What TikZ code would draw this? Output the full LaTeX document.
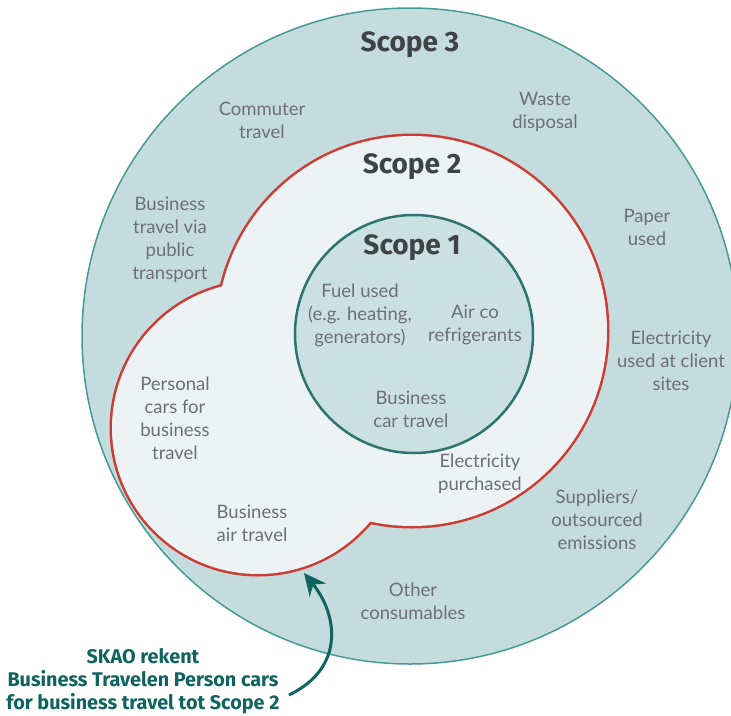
\documentclass[tikz,border=0pt]{standalone}
\usepackage{fontspec}
\setmainfont{Lato}
\newfontfamily\headfont{Fira Sans}
\usetikzlibrary{arrows.meta}

\definecolor{outerfill}{RGB}{196,220,221}
\definecolor{outerline}{RGB}{70,155,150}
\definecolor{midfill}{RGB}{237,243,244}
\definecolor{redline}{RGB}{205,60,50}
\definecolor{innerfill}{RGB}{203,225,225}
\definecolor{innerline}{RGB}{45,115,110}
\definecolor{itemgray}{RGB}{108,112,114}
\definecolor{scopegray}{RGB}{62,67,70}
\definecolor{noteteal}{RGB}{15,100,95}

\begin{document}
\begin{tikzpicture}[
    x = 1pt,
    y = -1pt,
    item/.style = {align=center, text=itemgray, inner sep=0pt,
      font=\fontsize{18.5}{23}\selectfont},
    scopelabel/.style = {text=scopegray, inner sep=0pt,
      font=\headfont\bfseries\fontsize{28}{30}\selectfont},
    note/.style = {align=center, text=noteteal, inner sep=0pt,
      font=\headfont\bfseries\fontsize{19.8}{23}\selectfont},
    pointer/.style = {-{Stealth[length=22pt, width=21pt]},
      line width=3pt, draw=noteteal},
    ]
    \useasboundingbox[fill=white] (0,0) rectangle (731,715);
    % scope 3 ring
    \draw[line width=1.5pt, draw=outerline, fill=outerfill]
    (410,336) circle[radius=328pt];
    % scope 2 blob
    \begin{scope}[line width=5pt, draw=redline]
      \draw (412,331) circle[radius=195pt];
      \draw (258,428) circle[radius=146pt];
    \end{scope}
    \fill[midfill] (412,331) circle[radius=195pt];
    \fill[midfill] (258,428) circle[radius=146pt];
    % scope 1 disc
    \draw[line width=2.5pt, draw=innerline, fill=innerfill]
    (414,334) circle[radius=119pt];
    % scope titles
    \node[scopelabel] (scope3) at (410,45) {Scope 3};
    \node[scopelabel] (scope2) at (412,167) {Scope 2};
    \node[scopelabel] (scope1) at (412,248) {Scope 1};
    % scope 3 items
    \node[item] (commuter) at (262,120) {Commuter\\travel};
    \node[item] (waste) at (545,112) {Waste\\disposal};
    \node[item] (public) at (170,240) {Business\\travel via\\public\\transport};
    \node[item] (paper) at (647,227) {Paper\\used};
    \node[item] (client) at (671,361) {Electricity\\used at client\\sites};
    \node[item] (suppliers) at (597,520) {Suppliers/\\outsourced\\emissions};
    \node[item] (other) at (413,601) {Other\\consumables};
    % scope 2 items
    \node[item] (personal) at (175,418) {Personal\\cars for\\business\\travel};
    \node[item] (air) at (252,523) {Business\\air travel};
    \node[item] (purchased) at (480,474) {Electricity\\purchased};
    % scope 1 items
    \node[item] (fuel) at (360,315) {Fuel used\\(e.g. heating,\\generators)};
    \node[item] (aircon) at (475,325) {Air co\\refrigerants};
    \node[item] (car) at (411,409) {Business\\car travel};
    % annotation
    \node[note] (skao) at (143,681)
    {SKAO rekent\\Business Travelen Person cars\\for business travel tot Scope 2};
    \coordinate (tail) at (289,695);
    \coordinate (tip) at (304,573);
    \draw[pointer] (tail) .. controls (345,668) and (338,615) .. (tip);
  \end{tikzpicture}
\end{document}
